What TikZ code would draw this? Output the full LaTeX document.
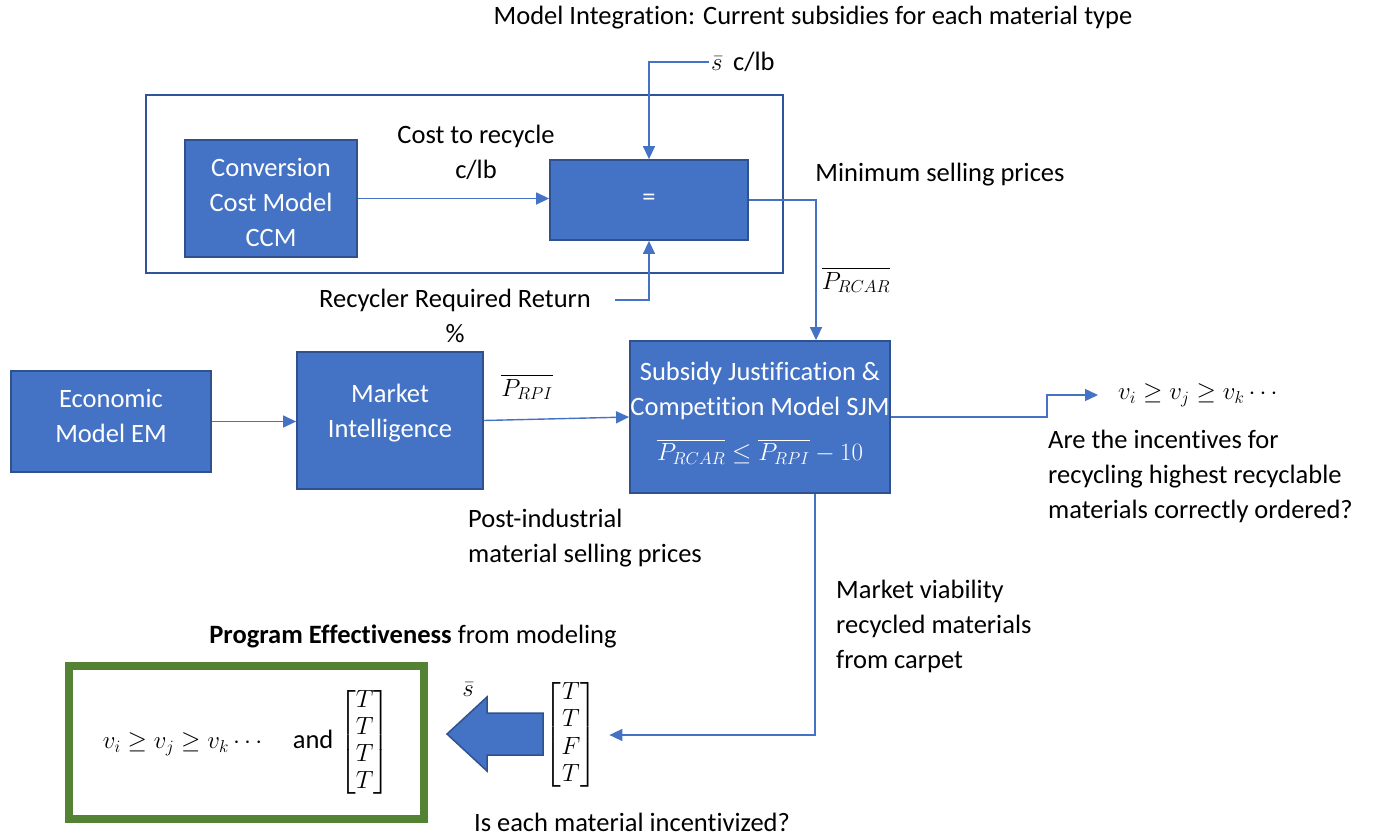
\documentclass[tikz,border=0pt]{standalone}
\usepackage{amsmath}
\usepackage{fontspec}
\setmainfont[Ligatures=NoCommon]{Carlito}
\usetikzlibrary{arrows.meta,calc}
\definecolor{boxblue}{HTML}{4472C4}
\definecolor{edgeblue}{HTML}{2F528F}
\definecolor{frameblue}{HTML}{2F5597}
\definecolor{effgreen}{HTML}{548235}
% a column vector of truth values
\newcommand{\tfcol}[4]{{\renewcommand{\arraystretch}{0.78}$\begin{bmatrix}#1\\#2\\#3\\#4\end{bmatrix}$}}
% centred lines of box text, moved up by #1 from the box centre
\newcommand{\lift}[2]{\raisebox{\dimexpr#1-6.2pt\relax}[0pt][0pt]{\begin{tabular}{@{}c@{}}#2\end{tabular}}}
\tikzset{
  txt/.style={font=\fontsize{26.5pt}{35pt}\selectfont, inner sep=0pt, align=center},
  blk/.style={txt, fill=boxblue, draw=edgeblue, line width=1.8pt, text=white},
  conn/.style={draw=boxblue, line width=1.4pt, -{Triangle[length=13pt,width=12pt]}},
}
\begin{document}
\begin{tikzpicture}[x=1pt, y=-1pt]
\useasboundingbox (0,0) rectangle (1374,838);

% ---- integration block ----
\node[txt] (title) at (813,18) {Model Integration: Current subsidies for each material type};
\node[draw=frameblue, line width=2.5pt, minimum width=637pt, minimum height=178pt, inner sep=0pt] (integ) at (464.5,184) {};
\node[blk, minimum width=172pt, minimum height=117pt] (ccm) at (271,198.5) {\lift{-6pt}{Conversion\\Cost Model\\CCM}};
\node[blk, minimum width=198pt, minimum height=80pt] (eq) at (649,200) {=};
\node[txt] (cost) at (476,152) {Cost to recycle\\c/lb};
\node[txt, anchor=west, inner xsep=2pt] (sbar) at (709,62) {$\bar{s}$\, c/lb};
\node[txt] (rrr) at (455,316) {Recycler Required Return\\\%};
\coordinate (rIn) at (615,300);
\node[txt] (minsp) at (940,175) {Minimum selling prices};
\node[txt] (prcar) at (856,280) {$\overline{P_{RCAR}}$};

% ---- main chain ----
\node[blk, minimum width=200pt, minimum height=101pt] (em) at (111,421.5) {\lift{3.5pt}{Economic\\Model EM}};
\node[blk, minimum width=186pt, minimum height=137pt] (mi) at (390,420.5) {\lift{7pt}{Market\\Intelligence}};
\node[blk, minimum width=260pt, minimum height=152pt] (sjm) at (760,417)
  {\lift{3.5pt}{Subsidy Justification \&\\Competition Model SJM\\[10pt]$\overline{P_{RCAR}} \le \overline{P_{RPI}} - 10$}};
\node[txt] (prpi) at (527,387) {$\overline{P_{RPI}}$};
\node[txt, align=left, anchor=west] (post) at (468,538) {Post-industrial\\material selling prices};
\node[txt, anchor=west, inner xsep=20pt] (vord) at (1098,395) {$v_i \ge v_j \ge v_k \cdots$};
\node[txt, align=left, anchor=west] (ask) at (1048,476) {Are the incentives for\\recycling highest recyclable\\materials correctly ordered?};
\node[txt, align=left, anchor=west] (viab) at (836,626) {Market viability\\recycled materials\\from carpet};

% ---- program effectiveness ----
\node[txt] (tfm) at (571,735) {\tfcol{T}{T}{F}{T}};
\node[txt] (isinc) at (632,822) {Is each material incentivized?};
\node[txt] (pehead) at (413,636) {\textbf{Program Effectiveness} from modeling};
\node[txt, draw=effgreen, line width=8pt, minimum width=355pt, minimum height=153pt] (pe) at (246.5,742.5)
  {$v_i \ge v_j \ge v_k \cdots$\quad and \tfcol{T}{T}{T}{T}};
\node[txt] (sbar2) at (468,690) {$\bar{s}$};
\filldraw[fill=boxblue, draw=edgeblue, line width=1.5pt]
  (543,713) -- (487,713) -- (487,697) -- (447,734) -- (487,771) -- (487,755) -- (543,755) -- cycle;

% ---- connectors ----
\draw[conn] (ccm.east) -- (ccm.east -| eq.west);
\draw[conn] (sbar.west) -| (eq.north);
\draw[conn] (rIn) -| (eq.south);
\draw[conn] (eq.east) -| ([xshift=56pt]sjm.north);
\draw[conn] (em.east) -- (em.east -| mi.west);
\draw[conn] (mi.east) -- (sjm.west);
\draw[conn] (sjm.east) -- ++(156,0) |- (vord.west);
\draw[conn] ([xshift=55pt]sjm.south) |- ([xshift=12pt]tfm.east);
\end{tikzpicture}
\end{document}
